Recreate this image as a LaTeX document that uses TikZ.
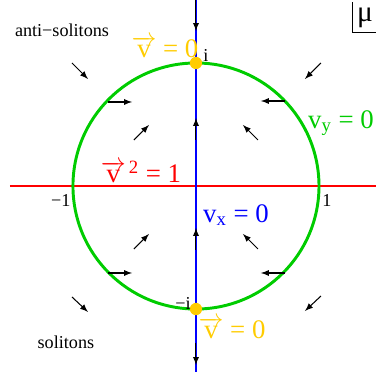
\documentclass[tikz,border=0pt]{standalone}
\usepackage{fontspec}
\setmainfont{Liberation Serif}
\usepackage{amsmath}
\usetikzlibrary{arrows}
\definecolor{dotyellow}{RGB}{255,204,0}
\definecolor{circgreen}{RGB}{0,204,0}

\begin{document}
\begin{tikzpicture}[x=2.5cm, y=2.5cm, >=latex,   %Pfeilspitzen
	flow/.style={->, black, line width=0.6pt},
	biglabel/.style={font=\fontsize{15.5}{18}\selectfont},
	smalllabel/.style={font=\fontsize{10.5}{12}\selectfont}]
	\useasboundingbox (-1.593,-1.585) rectangle (1.463,1.512);
	% Achsen und Kreis
	\draw [red, line width=1.7pt] (-1.512,0) -- (1.463,0);
	\draw [circgreen, line width=1.7pt] (0,0) circle (1);
	\draw [blue, line width=1.7pt] (0,1.512) -- (0,-1.512);
	% mu-Kasten
	\draw [line width=0.5pt] (1.268,1.495) -- (1.268,1.252) -- (1.463,1.252);
	\node [font=\fontsize{17}{19}\selectfont, inner sep=0pt] (mu) at (1.374,1.37) {μ};
	% Fluss links oben
	\draw [flow] (-1.008,1.0) -- (-0.878,0.870);
	\draw [flow] (-0.715,0.683) -- (-0.520,0.683);
	\draw [flow] (-0.504,0.374) -- (-0.382,0.496);
	% Fluss rechts oben
	\draw [flow] (1.016,1.0) -- (0.886,0.870);
	\draw [flow] (0.724,0.691) -- (0.528,0.691);
	\draw [flow] (0.504,0.374) -- (0.382,0.496);
	% Fluss links unten
	\draw [flow] (-0.504,-0.512) -- (-0.382,-0.390);
	\draw [flow] (-0.715,-0.707) -- (-0.520,-0.707);
	\draw [flow] (-1.008,-0.902) -- (-0.878,-1.024);
	% Fluss rechts unten
	\draw [flow] (0.504,-0.512) -- (0.382,-0.390);
	\draw [flow] (0.724,-0.707) -- (0.528,-0.707);
	\draw [flow] (1.016,-0.894) -- (0.886,-1.016);
	% Fluss auf der Achse
	\draw [flow] (0,1.512) -- (0,1.26);
	\draw [flow] (0,0.374) -- (0,0.553);
	\draw [flow] (0,-0.520) -- (0,-0.341);
	\draw [flow] (0,-1.276) -- (0,-1.455);
	% Fixpunkte
	\fill [dotyellow] (0,1) circle (0.05);
	\fill [dotyellow] (0,-1) circle (0.05);
	% Beschriftungen
	\node [smalllabel] (anti) at (-1.089,1.268) {anti−solitons};
	\node [smalllabel] (sol) at (-1.057,-1.268) {solitons};
	\node [smalllabel] (pi) at (0.081,1.057) {i};
	\node [smalllabel] (mi) at (-0.106,-0.951) {−i};
	\node [smalllabel] (mone) at (-1.098,-0.114) {−1};
	\node [smalllabel] (one) at (1.065,-0.114) {1};
	\node [biglabel, dotyellow] (vtop) at (-0.252,1.13) {$\overrightarrow{\textrm{v}}$ = 0};
	\node [biglabel, dotyellow] (vbot) at (0.293,-1.154) {$\overrightarrow{\textrm{v}}$ = 0};
	\node [biglabel, red] (vsq) at (-0.447,0.114) {$\overrightarrow{\textrm{v}}^{\,\textrm{2}}$ = 1};
	\node [biglabel, blue] (vx) at (0.325,-0.236) {$\textrm{v}_{\textrm{x}}$ = 0};
	\node [biglabel, circgreen] (vy) at (1.179,0.512) {$\textrm{v}_{\textrm{y}}$ = 0};
\end{tikzpicture}
\end{document}
